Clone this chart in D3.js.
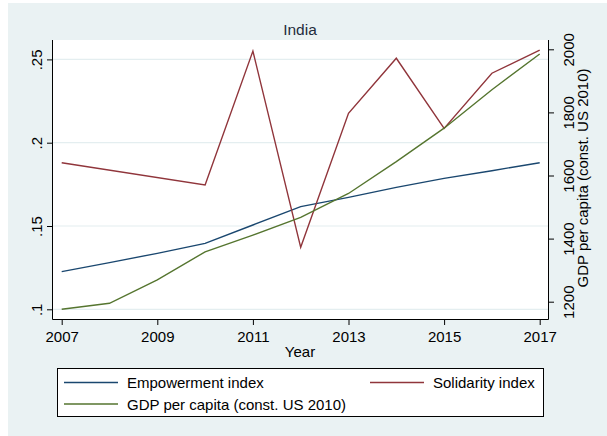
<!DOCTYPE html>
<html>
<head>
<meta charset="utf-8">
<script src="https://cdn.jsdelivr.net/npm/d3@7/dist/d3.min.js"></script>
<style>
  html, body { margin: 0; padding: 0; background: #ffffff; }
  svg { display: block; font-family: "Liberation Sans", Arial, sans-serif; }
</style>
</head>
<body>
<svg id="chart" width="607" height="436"></svg>
<script>
// ---- Data ----
const years = [2007, 2008, 2009, 2010, 2011, 2012, 2013, 2014, 2015, 2016, 2017];
const empowerment = [0.1226, 0.128, 0.1336, 0.1396, 0.1506, 0.1616, 0.1672, 0.1732, 0.1786, 0.1832, 0.188];
const solidarity = [0.188, null, null, 0.1746, 0.255, 0.1372, 0.2176, 0.2507, 0.2086, 0.2417, 0.2556];
const gdp = [1176, 1195, 1269, 1358, 1411, 1467, 1543, 1644, 1750, 1872, 1985];
const xTicks = [2007, 2009, 2011, 2013, 2015, 2017];
const leftTicks = [0.1, 0.15, 0.2, 0.25];
const leftTickLabels = [".1", ".15", ".2", ".25"];
const rightTicks = [1200, 1400, 1600, 1800, 2000];
const legendLabels = ["Empowerment index", "Solidarity index", "GDP per capita (const. US 2010)"];
const titleText = "India";
const xTitle = "Year";
const rightTitle = "GDP per capita (const. US 2010)";

// ---- Layout ----
const W = 607, H = 436;
const plotL = 52.5, plotR = 548.5, plotT = 40, plotB = 319.5;
const colors = { emp: "#1a476f", sol: "#90353b", gdp: "#55752f" };
const bg = "#eaf2f3";
const fontSize = 15;

const svg = d3.select("#chart");
svg.append("rect").attr("x", 8).attr("y", 3).attr("width", W - 8).attr("height", H - 3).attr("fill", bg);
svg.append("rect").attr("x", plotL).attr("y", plotT).attr("width", plotR - plotL).attr("height", plotB - plotT).attr("fill", "#ffffff");

const x = d3.scaleLinear().domain([2007, 2017]).range([61.7, 539.7]);
const yL = d3.scaleLinear().domain([0.1, 0.25]).range([309.3, 59.4]);
const yR = d3.scaleLinear().domain([1200, 2000]).range([301.7, 49.3]);

// gridlines
svg.append("g").selectAll("line").data(leftTicks).join("line")
  .attr("x1", plotL).attr("x2", plotR)
  .attr("y1", d => yL(d)).attr("y2", d => yL(d))
  .attr("stroke", "#e4eef0").attr("stroke-width", 1.2);

// series
const rows = years.map((yr, i) => ({ yr, emp: empowerment[i], sol: solidarity[i], gdp: gdp[i] }));
function drawLine(key, yScale, color) {
  const pts = rows.filter(r => r[key] !== null);
  const line = d3.line().x(d => x(d.yr)).y(d => yScale(d[key]));
  svg.append("path").datum(pts).attr("d", line)
    .attr("fill", "none").attr("stroke", color).attr("stroke-width", 1.4)
    .attr("stroke-linejoin", "miter");
}
drawLine("emp", yL, colors.emp);
drawLine("sol", yL, colors.sol);
drawLine("gdp", yR, colors.gdp);

// axes
const axisColor = "#000";
const tickLen = 5.5;

const gL = svg.append("g").attr("transform", `translate(${plotL},0)`)
  .call(d3.axisLeft(yL).tickValues(leftTicks).tickFormat((d, i) => leftTickLabels[i]).tickSizeInner(tickLen).tickSizeOuter(0));
gL.select(".domain").remove();
gL.selectAll("text").attr("transform", "rotate(-90)").attr("x", 0).attr("y", -11).attr("dy", 0)
  .attr("text-anchor", "middle").attr("font-size", fontSize).attr("font-family", "Liberation Sans, Arial, sans-serif").attr("fill", "#000");

const gR = svg.append("g").attr("transform", `translate(${plotR},0)`)
  .call(d3.axisRight(yR).tickValues(rightTicks).tickFormat(d3.format("d")).tickSizeInner(tickLen).tickSizeOuter(0));
gR.select(".domain").remove();
gR.selectAll("text").attr("transform", "rotate(-90)").attr("x", 0).attr("y", 25).attr("dy", 0)
  .attr("text-anchor", "middle").attr("font-size", fontSize).attr("font-family", "Liberation Sans, Arial, sans-serif").attr("fill", "#000");

const gB = svg.append("g").attr("transform", `translate(0,${plotB})`)
  .call(d3.axisBottom(x).tickValues(xTicks).tickFormat(d3.format("d")).tickSizeInner(tickLen).tickSizeOuter(0));
gB.select(".domain").remove();
gB.selectAll("text").attr("y", 22.5).attr("dy", 0)
  .attr("font-size", fontSize).attr("font-family", "Liberation Sans, Arial, sans-serif").attr("fill", "#000");

svg.selectAll(".tick line").attr("stroke", axisColor);

// axis lines
svg.append("line").attr("x1", plotL).attr("x2", plotL).attr("y1", plotT).attr("y2", plotB).attr("stroke", axisColor);
svg.append("line").attr("x1", plotR).attr("x2", plotR).attr("y1", plotT).attr("y2", plotB).attr("stroke", axisColor);
svg.append("line").attr("x1", plotL).attr("x2", plotR).attr("y1", plotB).attr("y2", plotB).attr("stroke", axisColor);

// titles
svg.append("text").attr("x", 300).attr("y", 35).attr("text-anchor", "middle")
  .attr("font-size", 15.5).attr("fill", "#1f2d3d").text(titleText);
svg.append("text").attr("x", 300).attr("y", 357).attr("text-anchor", "middle")
  .attr("font-size", fontSize).attr("fill", "#000").text(xTitle);
svg.append("text").attr("transform", "translate(587.5,178) rotate(-90)").attr("text-anchor", "middle")
  .attr("font-size", fontSize).attr("fill", "#000").text(rightTitle);

// legend
const leg = svg.append("g");
leg.append("rect").attr("x", 57.5).attr("y", 368.5).attr("width", 486).attr("height", 48)
  .attr("fill", "#fff").attr("stroke", "#000").attr("stroke-width", 1);
const legItems = [
  { label: legendLabels[0], color: colors.emp, lx: 64, ty: 382.5 },
  { label: legendLabels[1], color: colors.sol, lx: 370, ty: 382.5 },
  { label: legendLabels[2], color: colors.gdp, lx: 64, ty: 404 }
];
legItems.forEach(it => {
  leg.append("line").attr("x1", it.lx).attr("x2", it.lx + 54).attr("y1", it.ty).attr("y2", it.ty)
    .attr("stroke", it.color).attr("stroke-width", 1.4);
  leg.append("text").attr("x", it.lx + 63).attr("y", it.ty + 5.5)
    .attr("font-size", fontSize).attr("fill", "#000").text(it.label);
});
</script>
</body>
</html>
